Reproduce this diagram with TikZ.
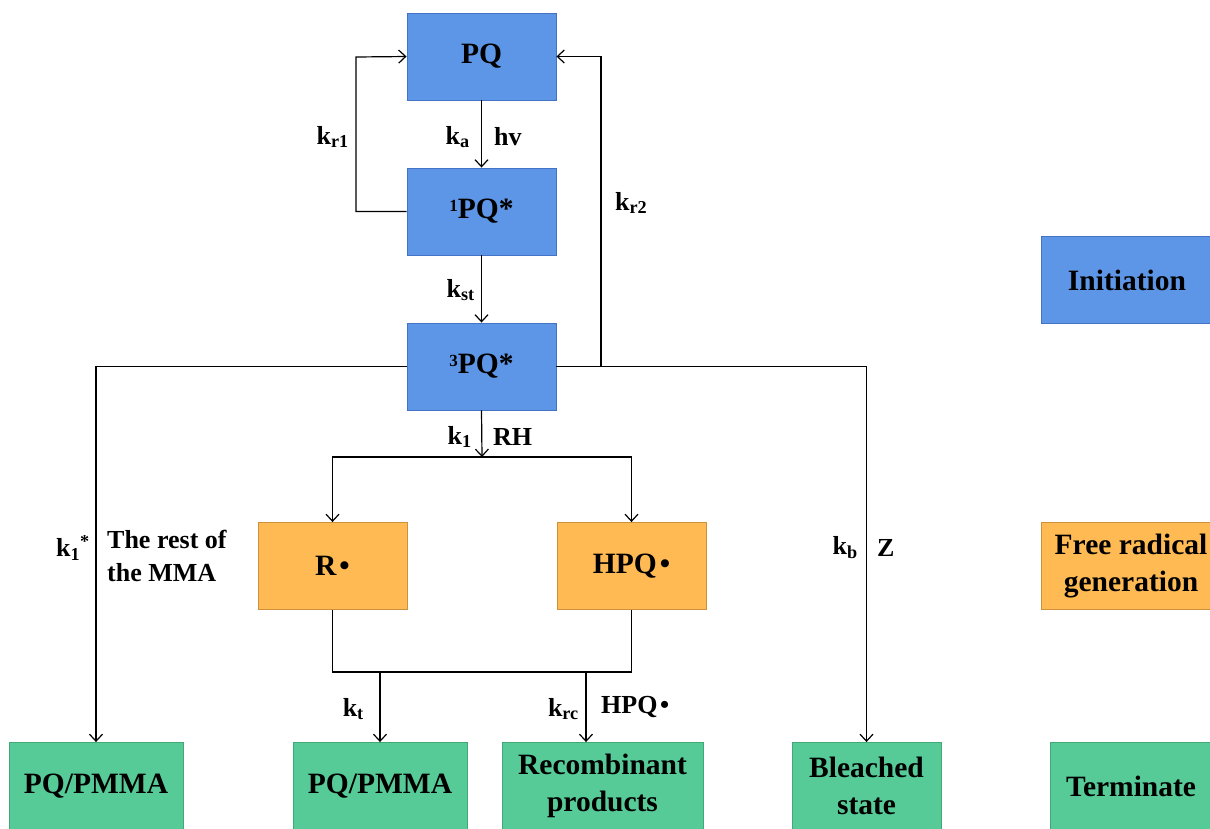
\documentclass[tikz,border=0pt]{standalone}
\usepackage{fontspec}
\setmainfont{Liberation Serif}
\usetikzlibrary{arrows.meta}

\definecolor{initfill}{RGB}{93,150,230}
\definecolor{initline}{RGB}{68,114,196}
\definecolor{radfill}{RGB}{255,186,84}
\definecolor{radline}{RGB}{205,145,60}
\definecolor{termfill}{RGB}{86,203,152}
\definecolor{termline}{RGB}{66,168,118}

\newcommand\boxfont{\fontsize{29.5}{37}\selectfont\bfseries}
\newcommand\lblfont{\fontsize{26}{33}\selectfont\bfseries}
\newcommand\rdot{\hspace{0.1em}•}
\newcommand\spinsup[1]{\raisebox{7.5pt}{\fontsize{17}{17}\selectfont #1}}

\tikzset{
  box/.style={draw, line width=0.9pt, minimum width=149pt, minimum height=87pt,
              inner sep=0pt, font=\boxfont, align=center},
  initbox/.style={box, fill=initfill, draw=initline},
  radbox/.style={box, fill=radfill, draw=radline},
  termbox/.style={box, fill=termfill, draw=termline},
  lbl/.style={font=\lblfont, inner sep=0pt, align=left},
  ln/.style={line width=1.2pt},
  arr/.style={ln, -{Straight Barb[length=7pt,width=13pt,line width=1.2pt]}},
}

\begin{document}
\begin{tikzpicture}[x=1pt,y=-1pt]
\useasboundingbox (0,0) rectangle (1210,828);
\clip (0,0) rectangle (1210,828);

% main chain of states
\node[initbox] (pq)  at (481.5,56.5)  {PQ};
\node[initbox] (pq1) at (481.5,211.5) {\spinsup{1}PQ*};
\node[initbox] (pq3) at (481.5,366.5) {\spinsup{3}PQ*};

% radicals
\node[radbox] (r)   at (332.5,566) {R\rdot};
\node[radbox] (hpq) at (631.5,566) {HPQ\rdot};

% end products
\node[termbox, minimum width=174pt] (pm1) at (96,786)    {PQ/PMMA};
\node[termbox, minimum width=174pt] (pm2) at (380,786)   {PQ/PMMA};
\node[termbox, minimum width=201pt] (rec) at (602.5,786) {Recombinant\\products};
\node[termbox] (bl) at (866.5,786) {Bleached\\state};

% legend
\node[initbox, minimum width=172pt] (leg1) at (1127,280) {Initiation};
\node[radbox,  minimum width=180pt] (leg2) at (1131,566) {Free radical\\generation};
\node[termbox, minimum width=162pt] (leg3) at (1131,786) {Terminate};

% junction points
\coordinate (kr1c) at (356,57);
\coordinate (kr2c) at (601,367);
\coordinate (split) at (482,457);
\coordinate (merge) at (332.5,672);
\coordinate (jt) at (380,672);
\coordinate (jrc) at (586,672);

% initiation
\draw[arr] (pq.south) -- (pq1.north);
\draw[arr] (pq1.south) -- (pq3.north);
\draw[arr] (pq1.west) -| (kr1c) -- (pq.west);
\draw[arr] (kr2c) |- (pq.east);

% branches out of the triplet state
\draw[arr] (pq3.west) -| (pm1.north);
\draw[arr] (pq3.east) -| (bl.north);
\draw[arr] (pq3.south) -- (split);
\draw[arr] (split) -| (r.north);
\draw[arr] (split) -| (hpq.north);

% termination of radicals
\draw[ln] (r.south) -- (merge) -- (merge -| hpq.south) -- (hpq.south);
\draw[arr] (jt) -- (jt |- pm2.north);
\draw[arr] (jrc) -- (jrc |- rec.north);

% rate constants and reagents
\node[lbl, anchor=east] (lkr1) at (349,137) {k\textsubscript{r1}};
\node[lbl, anchor=east] (lka)  at (470,137) {k\textsubscript{a}};
\node[lbl, anchor=west] (lhv)  at (494,137) {hv};
\node[lbl, anchor=west] (lkr2) at (615,203) {k\textsubscript{r2}};
\node[lbl, anchor=east] (lkst) at (475,290) {k\textsubscript{st}};
\node[lbl, anchor=east] (lk1)  at (472,437) {k\textsubscript{1}};
\node[lbl, anchor=west] (lrh)  at (493,437) {RH};
\node[lbl, anchor=east] (lk1s) at (90,548)  {k\textsubscript{1}\textsuperscript{*}};
\node[lbl, anchor=west] (lmma) at (107,556) {The rest of\\the MMA};
\node[lbl, anchor=east] (lkb)  at (858,548) {k\textsubscript{b}};
\node[lbl, anchor=west] (lz)   at (877,548) {Z};
\node[lbl, anchor=east] (lkt)  at (364,709) {k\textsubscript{t}};
\node[lbl, anchor=east] (lkrc) at (579,709) {k\textsubscript{rc}};
\node[lbl, anchor=west] (lhpq) at (601,707) {HPQ\rdot};
\end{tikzpicture}
\end{document}
